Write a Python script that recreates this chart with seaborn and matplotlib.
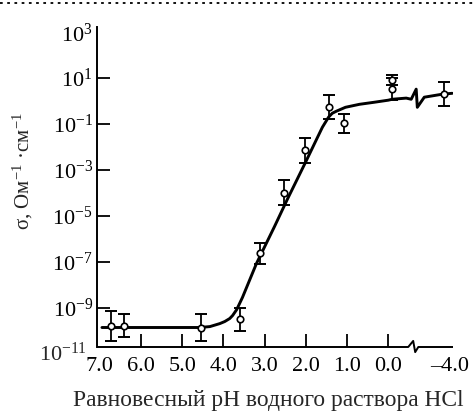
import numpy as np
import pandas as pd
import matplotlib
matplotlib.use("Agg")
import matplotlib.pyplot as plt
from matplotlib.lines import Line2D
from matplotlib.ticker import NullLocator
from matplotlib.transforms import ScaledTranslation
import seaborn as sns

# ---------------- data ----------------
# experimental points: pH, log10(sigma), error half-width in decades
point_ph = [6.73, 6.42, 4.55, 3.61, 3.12, 2.52, 2.01, 1.45, 1.07, -0.25, -0.25, -3.9]
point_logsigma = [-9.79, -9.79, -9.87, -9.52, -6.64, -4.00, -2.14, -0.27, -0.97, 0.91, 0.52, 0.30]
point_err = [0.65, 0.50, 0.57, 0.50, 0.45, 0.55, 0.55, 0.52, 0.42, 0.22, 0.48, 0.52]

# fitted curve (with the scale-break zigzag), pH and log10(sigma)
curve_ph = [6.95, 4.58, 4.33, 4.09, 3.97, 3.85, 3.78, 3.68, 3.54, 3.20, 2.76, 2.45,
            2.01, 1.74, 1.60, 1.45, 1.36, 1.26, 1.04, 0.70, 0.34, 0.0, -0.28,
            -1.26, -1.61, -1.96, -2.04, -2.53, -3.79, -4.5]
curve_logsigma = [-9.87, -9.87, -9.83, -9.70, -9.61, -9.48, -9.35, -9.09, -8.56, -7.08, -5.46, -4.28,
                  -2.67, -1.66, -1.14, -0.70, -0.53, -0.44, -0.27, -0.14, -0.05, 0.04, 0.08,
                  0.13, 0.08, 0.52, -0.27, 0.17, 0.30, 0.34]

x_ticks = [7.0, 6.0, 5.0, 4.0, 3.0, 2.0, 1.0, 0.0, -4.0]
x_tick_labels = ["7.0", "6.0", "5.0", "4.0", "3.0", "2.0", "1.0", "0.0", "\u20134.0"]
y_tick_exponents = [3, 1, -1, -3, -5, -7, -9]
y_bottom_exponent = -11

x_label = "Равновесный pH водного раствора HCl"
y_label = "σ, Ом$^{\u22121}$ ·см$^{\u22121}$"

# ---------------- style ----------------
sns.set_theme(style="white")
plt.rcParams["font.family"] = ["Liberation Serif", "DejaVu Serif"]
plt.rcParams["mathtext.fontset"] = "custom"
plt.rcParams["mathtext.rm"] = "Liberation Serif"
plt.rcParams["mathtext.it"] = "Liberation Serif:italic"
plt.rcParams["mathtext.bf"] = "Liberation Serif:bold"

K = 0.345  # compression of the negative-pH part (axis break)


def fwd(p):
    p = np.asarray(p, dtype=float)
    return np.where(p >= 0, p, p * K)


def inv(u):
    u = np.asarray(u, dtype=float)
    return np.where(u >= 0, u, u / K)


W, H = 476, 412
fig = plt.figure(figsize=(W / 100, H / 100), dpi=100)
ax = fig.add_axes([97 / W, 65 / H, (453 - 97) / W, (347 - 27) / H])
ax.set_xscale("function", functions=(fwd, inv))
ax.set_yscale("log")

pts = pd.DataFrame({"pH": point_ph,
                    "sigma": 10.0 ** np.array(point_logsigma)})
lo = pts["sigma"] - 10.0 ** (np.array(point_logsigma) - np.array(point_err))
hi = 10.0 ** (np.array(point_logsigma) + np.array(point_err)) - pts["sigma"]
curve = pd.DataFrame({"pH": curve_ph, "sigma": 10.0 ** np.array(curve_logsigma)})

sns.lineplot(data=curve, x="pH", y="sigma", ax=ax, color="black", lw=2.1,
             sort=False, estimator=None, zorder=2)
ax.errorbar(pts["pH"], pts["sigma"], yerr=[lo, hi], fmt="none", ecolor="black",
            elinewidth=1.3, capsize=4.5, capthick=1.4, zorder=3)
sns.scatterplot(data=pts, x="pH", y="sigma", ax=ax, marker="o", s=22,
                facecolor="white", edgecolor="black", linewidth=1.2, zorder=4)

ax.set_xlim(7.07, -4.55)
ax.set_ylim(10 ** -10.72, 10 ** 3.23)

# ticks
ax.set_xticks(x_ticks, labels=x_tick_labels)
ax.set_yticks([10.0 ** e for e in y_tick_exponents],
              labels=[f"$10^{{{e}}}$".replace("-", "\u2212") for e in y_tick_exponents])
ax.yaxis.set_minor_locator(NullLocator())
ax.xaxis.set_minor_locator(NullLocator())
ax.tick_params(axis="x", direction="in", length=9.5, width=1.3, pad=7,
               labelsize=16, colors="black", bottom=True)
ax.tick_params(axis="y", direction="in", length=9.5, width=1.3, pad=3,
               labelsize=16, colors="black", left=True)
xt = ax.xaxis.get_major_ticks()
xt[0].tick1line.set_visible(False)
xt[-1].tick1line.set_visible(False)
lab = xt[-1].label1
lab.set_transform(lab.get_transform() + ScaledTranslation(4 / 100, 0, fig.dpi_scale_trans))
yt = ax.yaxis.get_major_ticks()
yt[0].tick1line.set_visible(False)

ax.annotate(f"$10^{{{y_bottom_exponent}}}$".replace("-", "\u2212"),
            xy=(0, 10.0 ** y_bottom_exponent), xycoords=("axes fraction", "data"),
            xytext=(-7.5, 1.5), textcoords="offset points", ha="right",
            va="center_baseline", fontsize=16, annotation_clip=False)

# spines
for s in ["top", "right", "bottom"]:
    ax.spines[s].set_visible(False)
ax.spines["left"].set_linewidth(1.4)
ax.spines["left"].set_color("black")

# bottom axis line with a zigzag break
brk_x = [7.07, -1.40, -1.75, -1.89, -2.11, -4.55]
brk_y = [0.0, 0.0, 0.019, -0.016, 0.0, 0.0]
ax.plot(brk_x, brk_y, transform=ax.get_xaxis_transform(), color="black",
        lw=1.4, clip_on=False, solid_capstyle="butt", zorder=5)

ax.set_xlabel("")
ax.set_ylabel("")
fig.text(268 / W, (H - 406) / H, x_label, ha="center", va="baseline", fontsize=16.9)
fig.text(23 / W, 1 - 171 / H, y_label, ha="center", va="center", rotation=90,
         fontsize=15)

# dotted border line at the top
fig.add_artist(Line2D([0, 1], [1 - 2.5 / H, 1 - 2.5 / H], transform=fig.transFigure,
                      color="black", lw=1.3, linestyle=(0, (1.5, 2.5))))

fig.savefig("out.png", dpi=100)
